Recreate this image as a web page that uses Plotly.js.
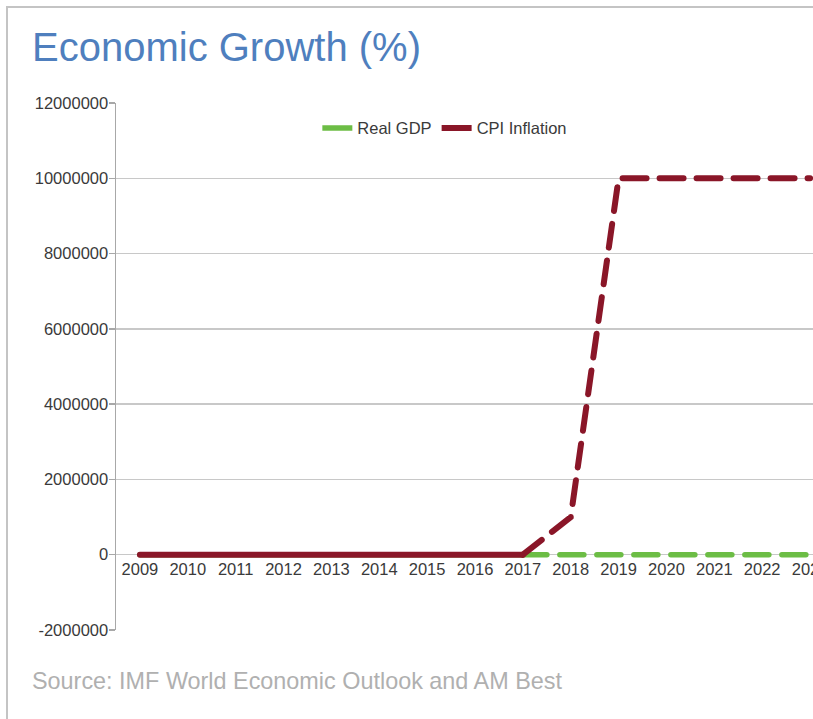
<!DOCTYPE html>
<html>
<head>
<meta charset="utf-8">
<script src="https://cdn.plot.ly/plotly-3.0.1.min.js"></script>
<style>
  html, body { margin: 0; padding: 0; overflow: hidden; background: #ffffff; width: 813px; height: 719px; }
  #chart { position: absolute; left: 0; top: 0; width: 850px; height: 719px; }
  #frame { position: absolute; left: 6px; top: 6px; width: 900px; height: 800px;
           border-top: 2px solid #c4c4c4; border-left: 2px solid #c4c4c4; pointer-events: none; }
  .scatterlayer .js-line { stroke-linecap: round; }
</style>
</head>
<body>
<div id="chart"></div>
<div id="frame"></div>
<script>
// Data
const years = ['2009','2010','2011','2012','2013','2014','2015','2016','2017','2018','2019','2020','2021','2022','2023'];
const actualYears = ['2009','2010','2011','2012','2013','2014','2015','2016','2017'];
const forecastYears = ['2017','2018','2019','2020','2021','2022','2023'];
const realGdpActual = [0, 0, 0, 0, 0, 0, 0, 0, 0];
const realGdpForecast = [0, 0, 0, 0, 0, 0, 0];
const cpiActual = [0, 0, 0, 0, 0, 0, 0, 0, 0];
const cpiForecast = [0, 1000000, 10000000, 10000000, 10000000, 10000000, 10000000];
const yTickVals = [-2000000, 0, 2000000, 4000000, 6000000, 8000000, 10000000, 12000000];
const yTickText = yTickVals.map(v => String(v));

const green = '#6cbd45';
const red = '#8a1628';
const FONT = 'Liberation Sans, Arial, sans-serif';

const traces = [
  { x: actualYears, y: realGdpActual, name: 'Real GDP', type: 'scatter', mode: 'lines',
    line: { color: green, width: 5.5 }, legendgroup: 'gdp', hoverinfo: 'skip' },
  { x: forecastYears, y: realGdpForecast, name: 'Real GDP', type: 'scatter', mode: 'lines',
    line: { color: green, width: 5.5, dash: '24px,13px' }, legendgroup: 'gdp', showlegend: false, hoverinfo: 'skip' },
  { x: actualYears, y: cpiActual, name: 'CPI Inflation', type: 'scatter', mode: 'lines',
    line: { color: red, width: 6 }, legendgroup: 'cpi', hoverinfo: 'skip' },
  { x: forecastYears, y: cpiForecast, name: 'CPI Inflation', type: 'scatter', mode: 'lines',
    line: { color: red, width: 6, dash: '24px,13px' }, legendgroup: 'cpi', showlegend: false, hoverinfo: 'skip' }
];

const layout = {
  width: 850, height: 719,
  margin: { l: 116, r: 15.5, t: 102.5, b: 89, pad: 0 },
  paper_bgcolor: '#ffffff', plot_bgcolor: '#ffffff',
  font: { family: FONT, size: 16.5, color: '#3a3a3a' },
  title: { text: 'Economic Growth (%)', font: { family: FONT, size: 40, color: '#4f7fbe' },
           xref: 'container', x: 32 / 850, xanchor: 'left', yref: 'container', y: 1 - 47 / 719, yanchor: 'middle' },
  showlegend: true,
  legend: { orientation: 'h', x: 0.458, xanchor: 'center', y: 0.952, yanchor: 'middle',
            bgcolor: 'rgba(0,0,0,0)', font: { family: FONT, size: 16.5, color: '#3a3a3a' }, traceorder: 'normal' },
  xaxis: { type: 'category', categoryorder: 'array', categoryarray: years, range: [-0.5, years.length - 0.5],
           anchor: 'free', position: 1 / 7, showline: false, showgrid: false, zeroline: false, ticks: '',
           ticklabelstandoff: 3,
           tickfont: { family: FONT, size: 16.5, color: '#3a3a3a' }, fixedrange: true },
  yaxis: { range: [-2000000, 12000000], tickvals: yTickVals, ticktext: yTickText,
           showgrid: true, gridcolor: '#c8c8c8', gridwidth: 1.5,
           zeroline: true, zerolinecolor: '#c8c8c8', zerolinewidth: 1.5,
           showline: true, linecolor: '#a8a8a8', linewidth: 1.5,
           ticks: 'outside', ticklen: 6, tickcolor: '#a8a8a8', tickwidth: 1.5,
           ticklabelstandoff: -3,
           tickfont: { family: FONT, size: 16.5, color: '#3a3a3a' }, fixedrange: true },
  annotations: [
    { text: 'Source: IMF World Economic Outlook and AM Best', xref: 'paper', yref: 'paper',
      x: (30 - 116) / 718.5, xanchor: 'left', y: (630 - 681) / 527.5, yanchor: 'middle',
      showarrow: false, font: { family: FONT, size: 23.4, color: '#b0b0b0' } }
  ]
};

Plotly.newPlot('chart', traces, layout, { displayModeBar: false, staticPlot: true });
</script>
</body>
</html>
